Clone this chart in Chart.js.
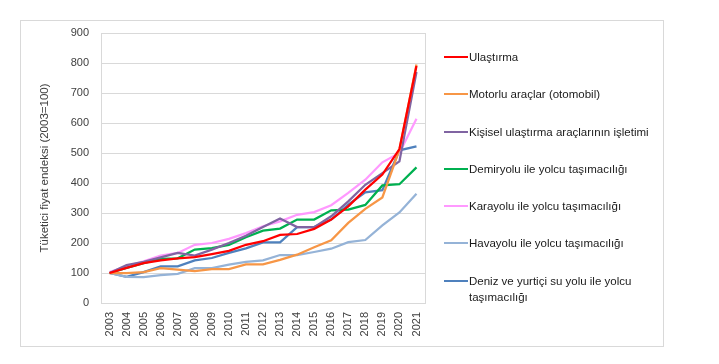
<!DOCTYPE html>
<html>
<head>
<meta charset="utf-8">
<script src="https://cdn.jsdelivr.net/npm/chart.js@4.4.1/dist/chart.umd.min.js"></script>
<style>
    body { margin: 0; background: #fff; }
    #wrap { position: relative; width: 719px; height: 364px; }
    #legenda { position: absolute; left: 444px; top: 49px; font-family: "Liberation Sans", Arial, sans-serif; font-size: 11.5px; color: #1a1a1a; }
    #legenda .item { position: relative; height: 37.3px; }
    #legenda .amostra { position: absolute; left: 0; top: 7px; width: 24px; height: 2px; }
    #legenda .texto { position: absolute; left: 25px; top: 0; width: 190px; line-height: 16px; }
</style>
</head>
<body>
<div id="wrap">
    <canvas id="graficoTransporte" width="719" height="364"></canvas>
    <div id="legenda"></div>
</div>
<script>
var anos = ['2003', '2004', '2005', '2006', '2007', '2008', '2009', '2010', '2011', '2012',
    '2013', '2014', '2015', '2016', '2017', '2018', '2019', '2020', '2021'];

var nomes = [
    'Ulaştırma',
    'Motorlu araçlar (otomobil)',
    'Kişisel ulaştırma araçlarının işletimi',
    'Demiryolu ile yolcu taşımacılığı',
    'Karayolu ile yolcu taşımacılığı',
    'Havayolu ile yolcu taşımacılığı',
    'Deniz ve yurtiçi su yolu ile yolcu taşımacılığı'
];

var cores = ['#FF0000', '#F79646', '#8064A2', '#00B050', '#FF99FF', '#95B3D7', '#4F81BD'];

var ulastirma = [100, 117, 133, 142, 149, 153, 163, 174, 194, 206, 227, 230, 247, 278, 322, 378, 428, 513, 790];
var motorlu = [100, 100, 103, 116, 111, 106, 113, 113, 129, 129, 144, 161, 186, 209, 267, 314, 352, 511, 795];
var kisisel = [100, 126, 137, 152, 167, 158, 178, 200, 224, 253, 282, 253, 253, 289, 339, 394, 433, 472, 770];
var demiryolu = [100, 117, 133, 147, 149, 178, 183, 194, 219, 241, 248, 278, 278, 309, 311, 327, 392, 396, 452];
var karayolu = [103, 122, 139, 158, 167, 194, 200, 214, 233, 256, 272, 294, 303, 326, 367, 411, 469, 500, 614];
var havayolu = [100, 87, 86, 93, 97, 116, 116, 128, 137, 142, 160, 160, 170, 181, 203, 210, 259, 302, 364];
var deniz = [100, 87, 103, 122, 122, 142, 150, 167, 182, 202, 202, 253, 253, 278, 328, 369, 376, 509, 522];

var series = [ulastirma, motorlu, kisisel, demiryolu, karayolu, havayolu, deniz];

$ = function (id) { return document.getElementById(id); };

window.onload = function () {
    showGraph();
};

function showGraph() {
    var datasets = [];
    for (var i in series) {
        datasets.push({
            label: nomes[i],
            data: series[i],
            borderColor: cores[i],
            backgroundColor: cores[i],
            borderWidth: 2.25,
            pointRadius: 0,
            tension: 0,
            fill: false
        });
    }

    // bordas do grafico e da area de plotagem
    var bordas = {
        id: 'bordas',
        beforeDraw: function (chart) {
            var ctx = chart.ctx;
            ctx.save();
            ctx.strokeStyle = '#d9d9d9';
            ctx.lineWidth = 1;
            ctx.strokeRect(20.5, 20.5, 643, 326);
            var a = chart.chartArea;
            ctx.strokeRect(a.left + 0.5, a.top + 0.5, a.right - a.left, a.bottom - a.top);
            ctx.restore();
        }
    };

    var fonte = { family: '"Liberation Sans", Arial, sans-serif', size: 11 };
    var fonteTitulo = { family: '"Liberation Sans", Arial, sans-serif', size: 11.5 };

    new Chart($('graficoTransporte'), {
        type: 'line',
        data: { labels: anos, datasets: datasets },
        plugins: [bordas],
        options: {
            responsive: false,
            animation: false,
            layout: { padding: { left: 20, top: 33, right: 294, bottom: 18 } },
            plugins: {
                legend: { display: false },
                tooltip: { enabled: false }
            },
            scales: {
                x: {
                    offset: true,
                    grid: { display: false, drawTicks: false },
                    border: { color: '#d9d9d9' },
                    ticks: { font: fonte, color: '#404040', minRotation: 90, maxRotation: 90, padding: 9, autoSkip: false },
                    afterFit: function (s) { s.height = 43; }
                },
                y: {
                    min: 0,
                    max: 900,
                    grid: { color: '#d9d9d9', drawTicks: false },
                    border: { color: '#d9d9d9' },
                    ticks: { font: fonte, color: '#404040', stepSize: 100, padding: 12 },
                    title: { display: true, text: 'Tüketici fiyat endeksi (2003=100)', font: fonteTitulo, color: '#404040', padding: { top: 18, bottom: 0 } },
                    afterFit: function (s) { s.width = 81; }
                }
            }
        }
    });

    var html = '';
    for (var j in nomes) {
        html += '<div class="item"><div class="amostra" style="background:' + cores[j] + '"></div>' +
            '<div class="texto">' + nomes[j] + '</div></div>';
    }
    $('legenda').innerHTML = html;
}
</script>
</body>
</html>
